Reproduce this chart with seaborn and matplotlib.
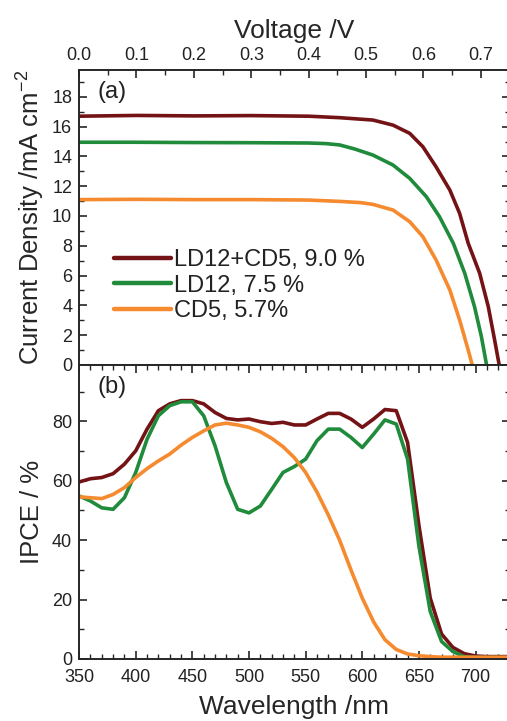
import numpy as np
import pandas as pd
import matplotlib
matplotlib.use("Agg")
import matplotlib.pyplot as plt
import seaborn as sns
from matplotlib.ticker import MultipleLocator


# J-V curves (panel a)
v_combo = [0.0, 0.1, 0.2, 0.3, 0.4, 0.454, 0.512, 0.547, 0.576, 0.599,
           0.622, 0.646, 0.663, 0.678, 0.698, 0.713, 0.724, 0.732]
j_combo = [16.7, 16.75, 16.72, 16.74, 16.7, 16.6, 16.44, 16.1, 15.55, 14.65,
           13.3, 11.74, 10.18, 8.17, 6.15, 3.91, 1.68, 0.0]

v_ld12 = [0.0, 0.1, 0.2, 0.3, 0.4, 0.43, 0.454, 0.48, 0.512, 0.547, 0.576,
          0.605, 0.628, 0.652, 0.672, 0.689, 0.701, 0.710]
j_ld12 = [14.95, 14.95, 14.93, 14.92, 14.9, 14.86, 14.77, 14.5, 14.09, 13.42,
          12.53, 11.3, 9.95, 8.17, 6.15, 3.91, 1.9, 0.0]

v_cd5 = [0.0, 0.1, 0.2, 0.3, 0.4, 0.454, 0.49, 0.512, 0.547, 0.576, 0.599,
         0.622, 0.646, 0.663, 0.678, 0.685]
j_cd5 = [11.1, 11.12, 11.1, 11.1, 11.07, 10.98, 10.9, 10.78, 10.4, 9.62,
         8.61, 7.05, 5.03, 3.02, 1.0, 0.0]

# IPCE spectra (panel b)
wl = [350, 360, 370, 380, 390, 400, 410, 420, 430, 440, 450, 460, 470, 480,
      490, 500, 510, 520, 530, 540, 550, 560, 570, 580, 590, 600, 610, 620,
      630, 640, 650, 660, 670, 680, 690, 700, 710, 720, 730]

ipce_combo = [59.6, 60.7, 61.1, 62.4, 65.6, 70.1, 77.4, 83.6, 85.9, 87.0, 87.0,
              85.9, 83.0, 81.0, 80.5, 80.8, 79.9, 79.3, 79.7, 78.8, 78.8, 80.8,
              82.7, 82.7, 80.8, 78.0, 80.8, 84.0, 83.6, 72.9, 45.0, 20.5, 8.4,
              3.9, 1.8, 1.0, 0.8, 0.8, 0.8]

ipce_ld12 = [54.9, 53.2, 50.9, 50.4, 54.3, 62.8, 74.0, 81.9, 85.3, 86.6, 86.6,
             81.9, 71.8, 59.4, 50.4, 49.2, 51.5, 57.1, 62.8, 64.8, 67.3, 73.5,
             77.4, 77.4, 74.6, 71.2, 75.7, 80.5, 79.1, 67.3, 38.0, 16.0, 5.9,
             2.5, 0.8, 0.5, 0.5, 0.5, 0.5]

ipce_cd5 = [54.6, 54.3, 54.0, 55.4, 57.7, 61.1, 64.1, 66.7, 69.0, 72.0, 74.6,
            76.8, 78.8, 79.4, 78.8, 78.0, 76.5, 74.3, 71.5, 67.8, 62.8, 56.2,
            48.5, 40.0, 30.0, 20.5, 12.5, 6.5, 3.2, 1.7, 1.1, 0.8, 0.6, 0.6,
            0.6, 0.6, 0.6, 0.6, 0.6]

labels = ["LD12+CD5, 9.0 %", "LD12, 7.5 %", "CD5, 5.7%"]
colors = ["#741315", "#1f8b3b", "#f58a2e"]


sns.set_style("ticks")
plt.rcParams["font.family"] = ["Liberation Sans", "DejaVu Sans"]
plt.rcParams["mathtext.fontset"] = "custom"
plt.rcParams["mathtext.rm"] = "Liberation Sans"
plt.rcParams["text.color"] = "#222222"
plt.rcParams["xtick.labelcolor"] = "#222222"
plt.rcParams["ytick.labelcolor"] = "#222222"

fig = plt.figure(figsize=(5.07, 7.21), dpi=100)
ax_a = fig.add_axes([0.156, 0.4938, 0.849, 0.4091])
ax_b = fig.add_axes([0.156, 0.086, 0.849, 0.4078])

lw = 2.6

# Panel (a)
jv_sets = [(v_combo, j_combo), (v_ld12, j_ld12), (v_cd5, j_cd5)]
for (v, j), lab, col in zip(jv_sets, labels, colors):
    sns.lineplot(x=v, y=j, ax=ax_a, color=col, linewidth=lw, label=lab,
                 sort=False)

ax_a.set_xlim(0, 0.75)
ax_a.set_ylim(0, 19.8)
ax_a.xaxis.set_major_locator(MultipleLocator(0.1))
ax_a.xaxis.set_minor_locator(MultipleLocator(0.05))
ax_a.yaxis.set_major_locator(MultipleLocator(2))
ax_a.yaxis.set_minor_locator(MultipleLocator(1))
ax_a.xaxis.set_label_position("top")
ax_a.tick_params(axis="x", which="both", direction="in", top=True,
                 bottom=False, labeltop=True, labelbottom=False)
ax_a.tick_params(axis="x", which="major", length=6, width=1.2, pad=4,
                 labelsize=13)
ax_a.tick_params(axis="x", which="minor", length=3.5, width=1.0)
ax_a.set_xlabel("Voltage /V", fontsize=19, labelpad=7)
ax_a.set_ylabel("Current Density /mA cm$^{-2}$", fontsize=18.5, labelpad=4)

leg = ax_a.legend(loc="upper left", bbox_to_anchor=(0.06, 0.425),
                  frameon=False, fontsize=17, handlelength=2.4,
                  handletextpad=0.12, labelspacing=0.15, borderaxespad=0)
for line in leg.get_lines():
    line.set_linewidth(3.2)
ax_a.text(0.043, 0.925, "(a)", transform=ax_a.transAxes, fontsize=17,
          va="center", ha="left")

# Panel (b)
ipce_sets = [ipce_combo, ipce_ld12, ipce_cd5]
for vals, col in zip(ipce_sets, colors):
    sns.lineplot(x=wl, y=vals, ax=ax_b, color=col, linewidth=lw, sort=False)

ax_b.set_xlim(350, 730)
ax_b.set_ylim(0, 99)
ax_b.xaxis.set_major_locator(MultipleLocator(50))
ax_b.xaxis.set_minor_locator(MultipleLocator(10))
ax_b.yaxis.set_major_locator(MultipleLocator(20))
ax_b.yaxis.set_minor_locator(MultipleLocator(10))
ax_b.tick_params(axis="x", which="both", direction="in", top=True,
                 bottom=True)
ax_b.tick_params(axis="x", which="major", length=6, width=1.2, pad=7,
                 labelsize=13)
ax_b.tick_params(axis="x", which="minor", length=3.5, width=1.0)
ax_b.set_xlabel("Wavelength /nm", fontsize=19, labelpad=7)
ax_b.set_ylabel("IPCE / %", fontsize=18.5, labelpad=6)
ax_b.text(0.043, 0.925, "(b)", transform=ax_b.transAxes, fontsize=17,
          va="center", ha="left")

for ax in (ax_a, ax_b):
    ax.tick_params(axis="y", which="both", direction="in", left=True,
                   right=True)
    ax.tick_params(axis="y", which="major", length=6, width=1.2, pad=5,
                   labelsize=13)
    ax.tick_params(axis="y", which="minor", length=3.5, width=1.0)
    for sp in ax.spines.values():
        sp.set_linewidth(1.4)
        sp.set_visible(True)

fig.savefig("out.png", dpi=100)
